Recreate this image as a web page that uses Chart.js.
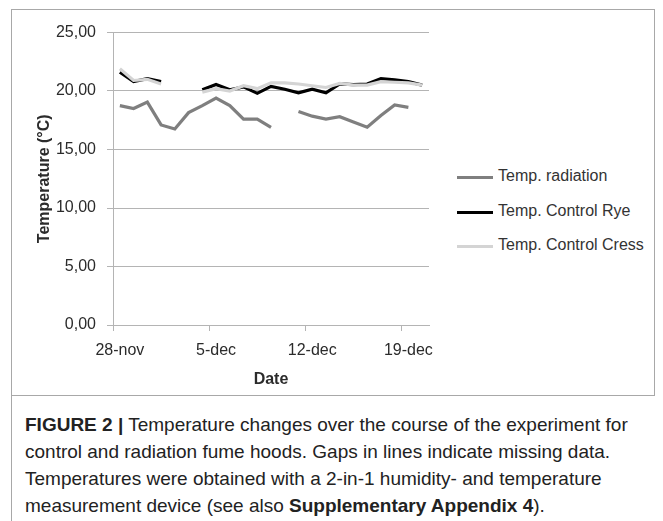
<!DOCTYPE html>
<html>
<head>
<meta charset="utf-8">
<script src="https://cdn.jsdelivr.net/npm/chart.js@4.4.1/dist/chart.umd.min.js"></script>
<style>
  html, body { margin: 0; padding: 0; background: #fff; }
  body { width: 663px; height: 521px; position: relative; overflow: hidden; font-family: "Liberation Sans", Arial, sans-serif; }
  #frame { position: absolute; left: 11px; top: 9px; width: 644px; height: 387px; border: 1px solid #a8a8a8; box-sizing: border-box; }
  #bar { position: absolute; left: 11px; top: 396px; width: 1px; height: 125px; background: #a8a8a8; }
  #wrap { position: absolute; left: 11px; top: 10px; width: 440px; height: 385px; }
  .leg { position: absolute; left: 457px; font-size: 16px; color: #333; white-space: nowrap; }
  .leg span { position: absolute; left: 0; width: 36px; top: 9px; }
  .leg b { position: absolute; left: 41px; top: 0; font-weight: normal; }
  #caption { position: absolute; left: 25px; top: 411px; font-family: "Liberation Sans", sans-serif; font-size: 19px; line-height: 27px; color: #222; white-space: nowrap; }
</style>
</head>
<body>
<div id="frame"></div>
<div id="bar"></div>
<div id="wrap"><canvas id="chart" width="440" height="385"></canvas></div>
<div id="legend"></div>
<div id="caption">
  <div><b>FIGURE 2 |</b> Temperature changes over the course of the experiment for</div>
  <div>control and radiation fume hoods. Gaps in lines indicate missing data.</div>
  <div>Temperatures were obtained with a 2-in-1 humidity- and temperature</div>
  <div>measurement device (see also <b>Supplementary Appendix 4</b>).</div>
</div>
<script>
/* ================= DATA ================= */
const dates = [
  "28-nov", "29-nov", "30-nov", "1-dec", "2-dec", "3-dec", "4-dec",
  "5-dec", "6-dec", "7-dec", "8-dec", "9-dec", "10-dec", "11-dec",
  "12-dec", "13-dec", "14-dec", "15-dec", "16-dec", "17-dec", "18-dec",
  "19-dec", "20-dec"
];

const tempRadiation = [
  18.75, 18.5, 19.05, 17.1, 16.75, 18.15, 18.75,
  19.4, 18.75, 17.6, 17.6, 16.9, null, 18.25,
  17.85, 17.6, 17.8, 17.35, 16.9, 17.9, 18.8,
  18.6, null
];

const tempControlRye = [
  21.6, 20.8, 21.05, 20.8, null, null, 20.1,
  20.55, 20.1, 20.35, 19.8, 20.4, 20.15, 19.85,
  20.15, 19.85, 20.6, 20.55, 20.6, 21.05, 20.95,
  20.8, 20.5
];

const tempControlCress = [
  21.9, 20.9, 21.0, 20.6, null, null, 19.9,
  20.2, 20.0, 20.45, 20.2, 20.7, 20.7, 20.6,
  20.45, 20.3, 20.65, 20.5, 20.5, 20.8, 20.75,
  20.7, 20.5
];

const yTicks = [0, 5, 10, 15, 20, 25];

const seriesNames = ["Temp. radiation", "Temp. Control Rye", "Temp. Control Cress"];
const seriesColors = ["#7f7f7f", "#000000", "#d4d4d4"];

/* ================= LEGEND ================= */
const legendTops = [167, 202, 236];
const legend = document.getElementById("legend");
seriesNames.forEach((name, i) => {
  const div = document.createElement("div");
  div.className = "leg";
  div.style.top = legendTops[i] + "px";
  div.innerHTML = `<span style="height:3px;background:${seriesColors[i]}"></span><b>${name}</b>`;
  legend.appendChild(div);
});

/* ================= CHART ================= */
const gridGray = "#b4b4b4";
const textColor = "#2b2b2b";

new Chart(document.getElementById("chart"), {
  type: "line",
  data: {
    labels: dates,
    datasets: [tempRadiation, tempControlRye, tempControlCress].map((d, i) => ({
      label: seriesNames[i],
      data: d,
      borderColor: seriesColors[i],
      backgroundColor: seriesColors[i],
      borderWidth: 3.2,
      pointRadius: 0,
      tension: 0,
      spanGaps: false,
      order: 3 - i
    }))
  },
  options: {
    responsive: false,
    animation: false,
    events: [],
    layout: { padding: { top: 22.5, right: 22, left: 0, bottom: 0 } },
    plugins: { legend: { display: false }, tooltip: { enabled: false } },
    scales: {
      x: {
        type: "category",
        offset: true,
        afterFit: s => { s.height = 70; },
        grid: {
          offset: true,
          drawOnChartArea: false,
          drawTicks: true,
          tickLength: 6,
          color: ctx => (ctx.index % 7 === 0 ? gridGray : "rgba(0,0,0,0)")
        },
        border: { display: true, color: gridGray, width: 1 },
        ticks: {
          autoSkip: false,
          maxRotation: 0,
          padding: 10,
          color: textColor,
          font: { family: "Liberation Sans", size: 16 },
          callback: (v, i) => (i % 7 === 0 ? dates[i] : "")
        },
        title: {
          display: true,
          text: "Date",
          color: textColor,
          padding: { top: 0, bottom: 6 },
          font: { family: "Liberation Sans", size: 16, weight: "bold" }
        }
      },
      y: {
        min: 0,
        max: 25,
        afterFit: s => { s.width = 102; },
        afterBuildTicks: s => { s.ticks = yTicks.map(v => ({ value: v })); },
        grid: { color: gridGray, lineWidth: 1, tickLength: 6 },
        border: { display: true, color: gridGray, width: 1 },
        ticks: {
          padding: 11,
          color: textColor,
          font: { family: "Liberation Sans", size: 16 },
          callback: v => v.toFixed(2).replace(".", ",")
        },
        title: {
          display: true,
          text: "Temperature (°C)",
          color: textColor,
          padding: { top: 24, bottom: 0 },
          font: { family: "Liberation Sans", size: 16, weight: "bold" }
        }
      }
    }
  }
});
</script>
</body>
</html>
